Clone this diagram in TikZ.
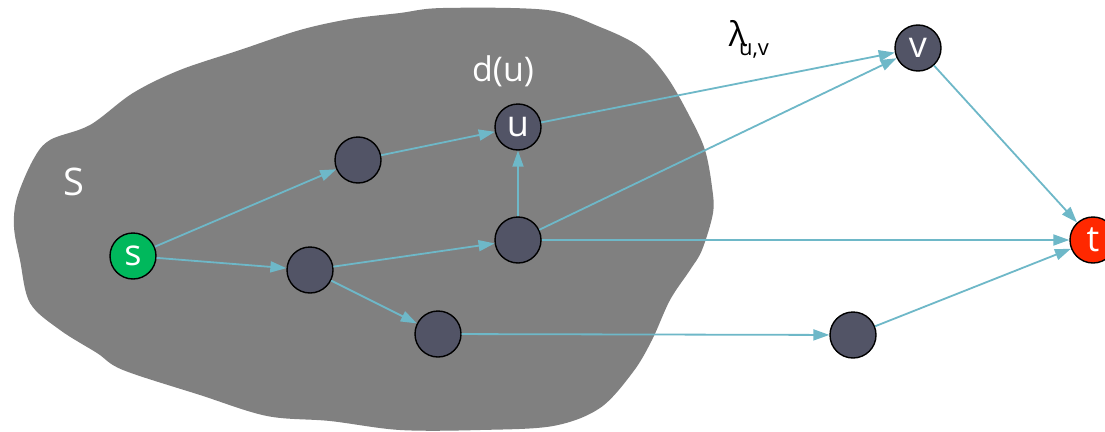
\documentclass[tikz,border=0pt]{standalone}
\usepackage{fontspec}
\setmainfont{Open Sans}
\usetikzlibrary{arrows.meta}
\definecolor{blobgray}{RGB}{128,128,128}
\definecolor{nodefill}{RGB}{82,84,102}
\definecolor{edgecol}{RGB}{110,184,200}
\definecolor{sgreen}{RGB}{0,184,92}
\definecolor{tred}{RGB}{255,40,0}
\begin{document}
\begin{tikzpicture}[x=1pt,y=-1pt,
  vtx/.style={circle,draw=black,line width=1.4pt,fill=nodefill,minimum size=46pt,inner sep=0pt,text=white,font=\fontsize{36}{36}\selectfont},
  edge/.style={draw=edgecol,line width=1.8pt,-{Triangle[length=16pt,width=11pt]}},
  lbl/.style={text=white,inner sep=0pt}]
\useasboundingbox (0,0) rectangle (1105,431);
\fill[white] (0,0) rectangle (1105,431);
% the set S
\fill[blobgray] plot[smooth cycle, tension=0.55] coordinates {
 (400,13) (443,8) (547,10) (600,27) (640,47) (667,77) (690,117) (705,150)
 (712,187) (713,213) (702,250) (690,270) (670,300) (652,340) (633,372) (600,408)
 (553,426) (480,430) (400,430) (330,421) (267,416) (200,395) (123,370) (97,353)
 (60,330) (30,303) (20,260) (14,227) (17,198) (33,160) (50,140) (90,125)
 (133,93) (180,70) (240,50) (300,30) (350,19)};
\node[lbl,font=\fontsize{38}{38}\selectfont] (Slbl) at (74,182) {S};
\node[lbl,font=\fontsize{34}{34}\selectfont] (dlbl) at (503,71) {d(u)};
\node[inner sep=0pt,font=\fontsize{34}{34}\selectfont] (lam) at (738,34) {λ};
\node[inner sep=0pt,font=\fontsize{22}{22}\selectfont] (uv) at (754,51) {u,v};
% vertices
\node[vtx,fill=sgreen] (s) at (133,256) {s};
\node[vtx] (a) at (358,160) {};
\node[vtx] (b) at (310,270) {};
\node[vtx] (u) at (518,127) {u};
\node[vtx] (m) at (518,240) {};
\node[vtx] (c) at (438,334) {};
\node[vtx] (d) at (853,335) {};
\node[vtx] (v) at (918,48) {v};
\node[vtx,fill=tred] (t) at (1093,240) {t};
% edges
\draw[edge] (s) -- (a);
\draw[edge] (s) -- (b);
\draw[edge] (a) -- (u);
\draw[edge] (b) -- (m);
\draw[edge] (b) -- (c);
\draw[edge] (m) -- (u);
\draw[edge] (u) -- (v);
\draw[edge] (m) -- (v);
\draw[edge] (m) -- (t);
\draw[edge] (c) -- (d);
\draw[edge] (d) -- (t);
\draw[edge] (v) -- (t);
\end{tikzpicture}
\end{document}
